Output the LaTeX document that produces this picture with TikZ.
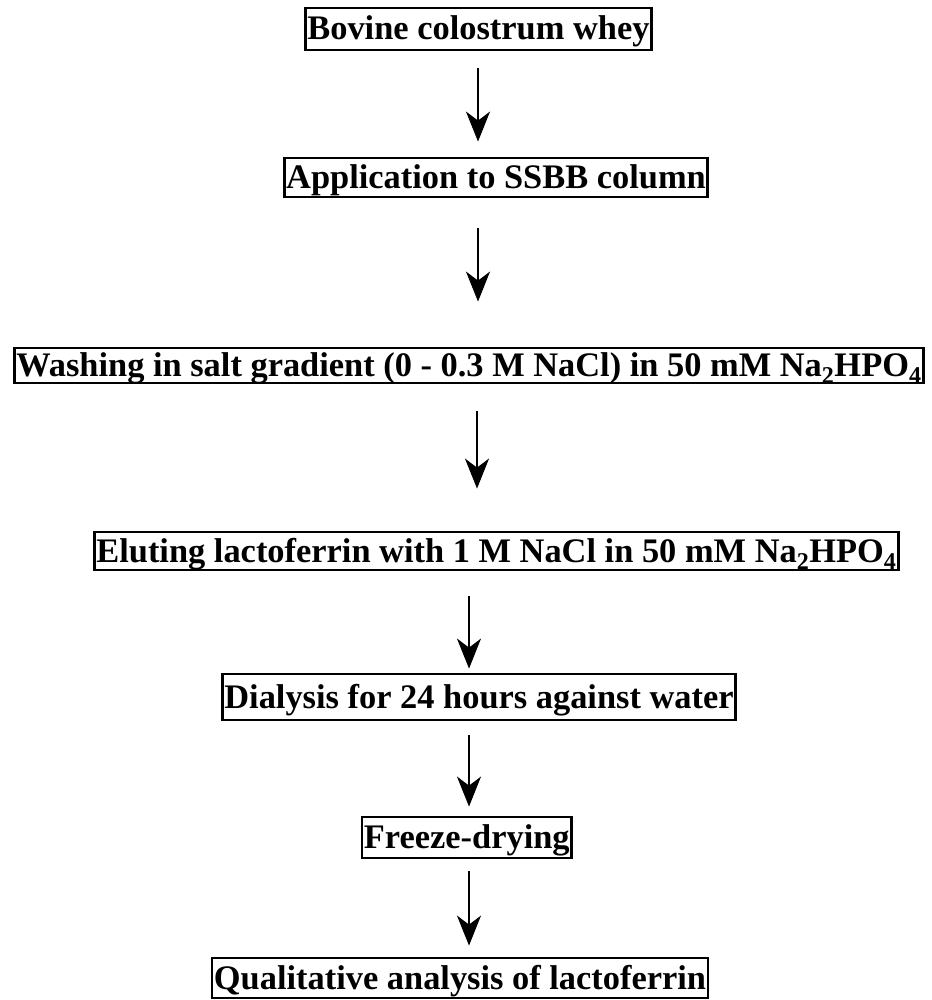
\documentclass[tikz,border=0pt]{standalone}
\usepackage{fontspec}
\setmainfont{Liberation Serif}
\usetikzlibrary{arrows.meta}
\begin{document}
\begin{tikzpicture}[x=1pt,y=-1pt,
  stepbox/.style={draw, line width=2.8pt, inner xsep=2pt, inner ysep=0pt,
    text height=28pt, text depth=6pt,
    font=\fontsize{34.4}{40}\selectfont\bfseries},
  flow/.style={line width=2pt, -{Stealth[length=30pt,width=24pt,inset=9pt]}}]
\useasboundingbox (0,0) rectangle (931,1000);

% process steps, top to bottom
\node[stepbox, anchor=west, minimum height=42pt] (whey) at (304,29) {Bovine colostrum whey};
\node[stepbox, minimum height=39pt] (apply) at (496,177.5) {Application to SSBB column};
\node[stepbox, anchor=west, minimum height=35pt] (wash) at (13,365.5)
  {Washing in salt gradient (0 - 0.3 M NaCl) in 50 mM Na\textsubscript{2}HPO\textsubscript{4}};
\node[stepbox, anchor=west, minimum height=38pt] (elute) at (93,551)
  {Eluting lactoferrin with 1 M NaCl in 50 mM Na\textsubscript{2}HPO\textsubscript{4}};
\node[stepbox, minimum height=46pt] (dialysis) at (479,697) {Dialysis for 24 hours against water};
\node[stepbox, anchor=east, minimum height=41pt] (freeze) at (573,837.5) {Freeze-drying};
\node[stepbox, minimum height=40pt] (analysis) at (460,978) {Qualitative analysis of lactoferrin};

% vertical axes of the arrows
\coordinate (upper) at (478,0);
\coordinate (middle) at (477,0);
\coordinate (lower) at (469,0);

\draw[flow, shorten <=17pt, shorten >=15pt] (whey.south -| upper) -- (apply.north -| upper);
\draw[flow, shorten <=30pt, shorten >=45pt] (apply.south -| upper) -- (wash.north -| upper);
\draw[flow, shorten <=27pt, shorten >=42pt] (wash.south -| middle) -- (elute.north -| middle);
\draw[flow, shorten <=25pt, shorten >=4pt] (elute.south -| lower) -- (dialysis.north -| lower);
\draw[flow, shorten <=14pt, shorten >=9pt] (dialysis.south -| lower) -- (freeze.north -| lower);
\draw[flow, shorten <=12pt, shorten >=11pt] (freeze.south -| lower) -- (analysis.north -| lower);
\end{tikzpicture}
\end{document}
